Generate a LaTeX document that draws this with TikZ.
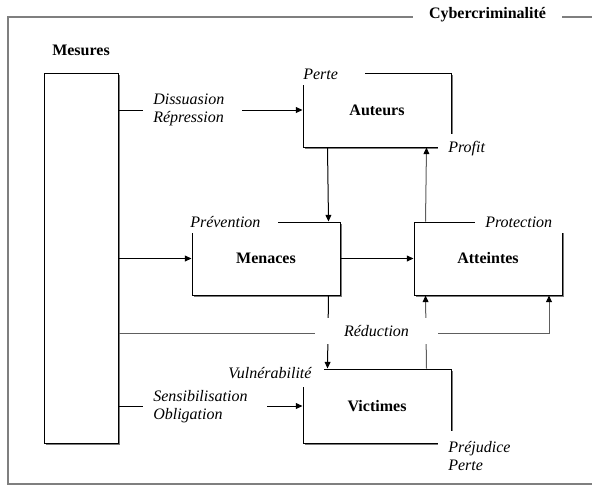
\documentclass[tikz,border=0pt]{standalone}
\usepackage{fontspec}
\setmainfont{Liberation Serif}
\usepackage{xcolor}
\definecolor{frame}{HTML}{7F7F7F}
\definecolor{shade}{HTML}{7A7A7A}
\definecolor{upline}{HTML}{5E5E5E}
\usetikzlibrary{arrows.meta,positioning,calc,shadows}
\newcommand{\twelve}{\fontsize{12pt}{13.5pt}\selectfont}
\tikzset{
  >={Triangle[length=5pt,width=4.4pt]},
  box/.style  ={draw=black,fill=white,line width=0.75pt,inner sep=0pt,
                font=\twelve\bfseries,
                drop shadow={shadow xshift=1.8pt,shadow yshift=-1.8pt,
                             opacity=1,fill=shade}},
  head/.style ={font=\twelve\bfseries,inner sep=0pt},
  tag/.style  ={fill=white,inner ysep=0pt,align=left,anchor=north west,
                font=\twelve\itshape},
  link/.style ={->,draw=black,line width=0.75pt},
  back/.style ={-{Triangle[length=5pt,width=4.4pt,color=black]},draw=upline,line width=0.75pt},
}

\begin{document}
\begin{tikzpicture}[x=0.75pt,y=-0.75pt]
\useasboundingbox (0,0) rectangle (592,486);
\clip (0,0) rectangle (592,486);
% frame
\draw[draw=frame,line width=1.1pt] (600,17) -- (8,17) -- (8,484) -- (600,484);
\node[head,fill=white,minimum width=111.75pt,minimum height=15pt] (titre) at (487.5,15) {Cybercriminalit\'e};
% boxes
\node[box,minimum width=55.5pt,minimum height=277.5pt] (mes) at (81,258) {};
\node[head] (mestxt) at (81,50) {Mesures};
\node[box,minimum width=111pt,minimum height=55.5pt] (aut) at (377,110) {Auteurs};
\node[box,minimum width=111pt,minimum height=54.75pt] (men) at (266,258.5) {Menaces};
\node[box,minimum width=111pt,minimum height=54.75pt] (att) at (488,258.5) {Atteintes};
\node[box,minimum width=111pt,minimum height=55.5pt] (vic) at (377,406) {Victimes};
% links from Mesures
\draw[link] (mes.east |- aut.west) -- (aut.west);
\draw[link] (mes.east |- men.west) -- (men.west);
\draw[link] (mes.east |- vic.west) -- (vic.west);
\coordinate (red) at (549,333);
\draw[back] (mes.east |- red) -- (red) -- (red |- att.south);
% links between boxes
\draw[link] ($(aut.south west)+(25,0)$) -- ($(men.north east)+(-12,0)$);
\draw[back] ($(att.north west)+(12,0)$) -- ($(aut.south east)+(-25,0)$);
\draw[link] (men.east) -- (att.west);
\draw[link] ($(men.south east)+(-12,0)$) -- ($(vic.north west)+(25,0)$);
\draw[back] ($(vic.north east)+(-25,0)$) -- ($(att.south west)+(12,0)$);
% labels
\node[tag,inner xsep=5.25pt,text width=41.25pt,minimum height=16.5pt] (perte) at (296,63) {Perte};
\node[tag,inner xsep=7.5pt,text width=30pt,minimum height=21pt] (profit) at (438,134) {Profit};
\node[tag,inner xsep=3pt,text width=63pt,minimum height=16.5pt] (prev) at (186,211) {Pr\'evention};
\node[tag,inner xsep=7.5pt,text width=54.75pt,minimum height=16.5pt] (prot) at (475,211) {Protection};
\node[tag,inner xsep=4.5pt,text width=67.5pt,minimum height=21.75pt] (vuln) at (222,358) {Vuln\'erabilit\'e};
\node[tag,inner xsep=7.5pt,text width=49.5pt,minimum height=37.5pt] (prej) at (438,431) {Pr\'ejudice\\Perte};
\node[tag,inner xsep=7.5pt,text width=59.25pt,minimum height=30pt] (diss) at (143,90) {Dissuasion\\R\'epression};
\node[tag,inner xsep=7.5pt,text width=78pt,minimum height=30pt] (sens) at (143,386) {Sensibilisation\\Obligation};
\node[tag,anchor=center,align=center,inner sep=0pt,minimum width=92.25pt,minimum height=19.5pt] (reduc) at (376.5,331) {R\'eduction};
\end{tikzpicture}
\end{document}
